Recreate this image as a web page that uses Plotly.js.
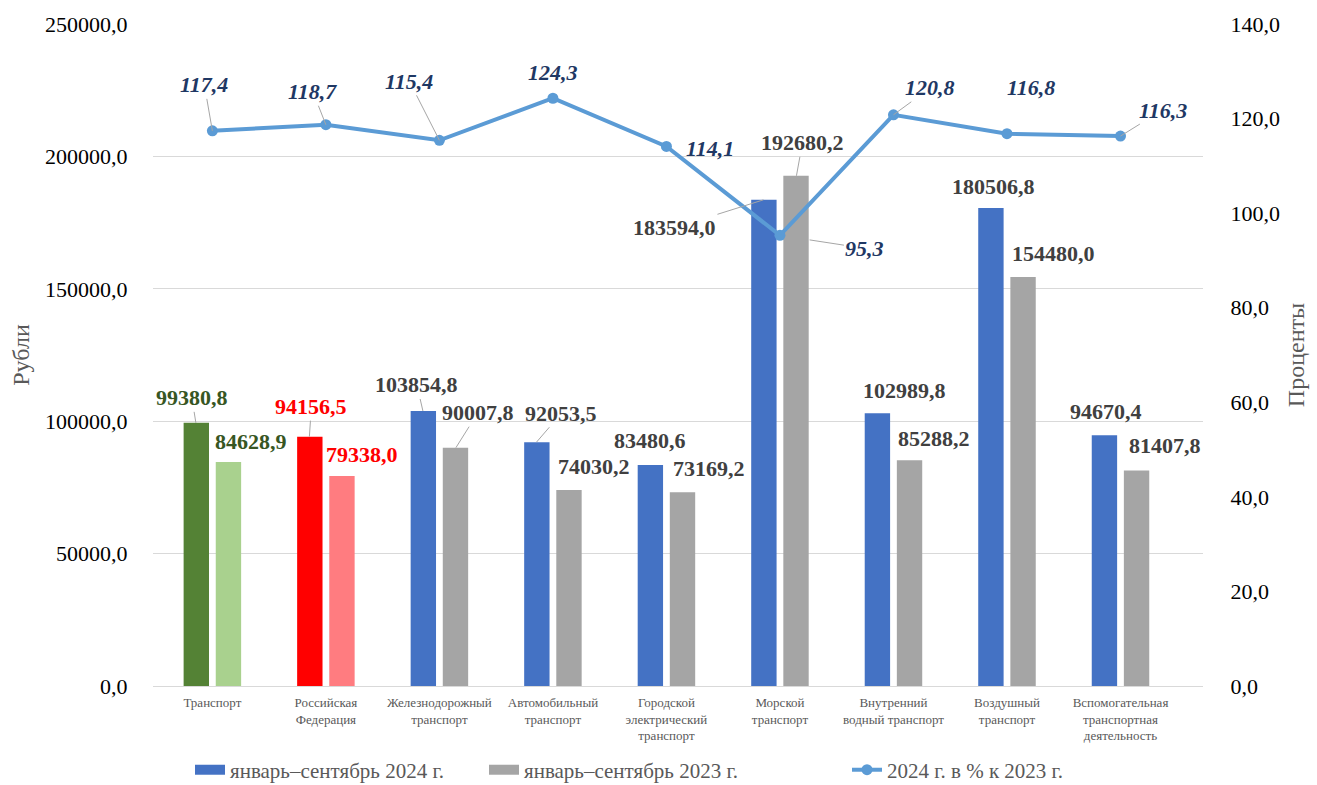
<!DOCTYPE html>
<html>
<head>
<meta charset="utf-8">
<script src="https://cdn.plot.ly/plotly-3.0.1.min.js"></script>
<style>html,body{margin:0;padding:0;background:#fff;}#chart{width:1317px;height:785px;}</style>
</head>
<body>
<div id="chart"></div>
<script>
// ---- data ----
const categories = [
  "Транспорт",
  "Российская<br>Федерация",
  "Железнодорожный<br>транспорт",
  "Автомобильный<br>транспорт",
  "Городской<br>электрический<br>транспорт",
  "Морской<br>транспорт",
  "Внутренний<br>водный транспорт",
  "Воздушный<br>транспорт",
  "Вспомогательная<br>транспортная<br>деятельность"
];
const values2024 = [99380.8, 94156.5, 103854.8, 92053.5, 83480.6, 183594.0, 102989.8, 180506.8, 94670.4];
const values2023 = [84628.9, 79338.0, 90007.8, 74030.2, 73169.2, 192680.2, 85288.2, 154480.0, 81407.8];
const percent = [117.4, 118.7, 115.4, 124.3, 114.1, 95.3, 120.8, 116.8, 116.3];
const seriesNames = ["январь–сентябрь 2024 г.", "январь–сентябрь 2023 г.", "2024 г. в % к 2023 г."];
const leftTicks = [0, 50000, 100000, 150000, 200000, 250000];
const rightTicks = [0, 20, 40, 60, 80, 100, 120, 140];

// ---- styles ----
const colors2024 = ["#548235", "#FF0000", "#4472C4", "#4472C4", "#4472C4", "#4472C4", "#4472C4", "#4472C4", "#4472C4"];
const colors2023 = ["#A9D18E", "#FF7C80", "#A5A5A5", "#A5A5A5", "#A5A5A5", "#A5A5A5", "#A5A5A5", "#A5A5A5", "#A5A5A5"];
const labelColors = ["#375623", "#FF0000", "#404040", "#404040", "#404040", "#404040", "#404040", "#404040", "#404040"];
const serif = 'Liberation Serif, Times New Roman, serif';

// label offsets (pixels) and whether a leader line is drawn
const off2024 = [[-4,-25,1],[2,-30,1],[-6,-26,1],[25,-29,1],[0,-24,0],[-89,28,1],[28,-23,0],[3,-22,0],[2,-24,0]];
const off2023 = [[22,-20,0],[20,-21,0],[22,-35,1],[25,-23,0],[26,-24,0],[6,-33,1],[24,-22,0],[30,-23,0],[28,-25,0]];
const offPct  = [[-8,-46,1],[-13,-33,1],[-30,-59,1],[0,-26,0],[44,2,0],[85,13,1],[37,-27,1],[24,-46,0],[42,-26,1]];

const fmt = v => v.toFixed(1).replace('.', ',');

const traces = [
  {type:'bar', x:categories, y:values2024, name:seriesNames[0], showlegend:false, offsetgroup:'a',
   marker:{color:colors2024}, hoverinfo:'skip'},
  {type:'bar', x:categories, y:values2023, name:seriesNames[1], showlegend:false, offsetgroup:'b',
   marker:{color:colors2023}, hoverinfo:'skip'},
  {type:'scatter', mode:'lines+markers', x:categories, y:percent, yaxis:'y2', name:seriesNames[2], legend:'legend3',
   line:{color:"#5B9BD5", width:4}, marker:{color:"#5B9BD5", size:11}, hoverinfo:'skip'},
  // legend keys for the bar series
  {type:'scatter', mode:'lines', x:[categories[0]], y:[null], yaxis:'y2', name:seriesNames[0], legend:'legend',
   line:{color:"#4472C4", width:10}, hoverinfo:'skip'},
  {type:'scatter', mode:'lines', x:[categories[0]], y:[null], yaxis:'y2', name:seriesNames[1], legend:'legend2',
   line:{color:"#A5A5A5", width:10}, hoverinfo:'skip'}
];

const annotations = [];
function addLabel(x, y, yref, xshift, off, text, color, italic) {
  annotations.push({
    x:x, y:y, xref:'x', yref:yref, xshift:xshift, text: italic ? '<b><i>'+text+'</i></b>' : '<b>'+text+'</b>',
    showarrow:true, ax:off[0], ay:off[1], axref:'pixel', ayref:'pixel',
    arrowhead:0, arrowwidth:1, standoff: (italic && off[0] > 60) ? 30 : 0,
    arrowcolor: off[2] ? '#A6A6A6' : 'rgba(0,0,0,0)',
    font:{family:serif, size:22, color:color}
  });
}
categories.forEach((c, i) => {
  addLabel(c, values2024[i], 'y', -16.5, off2024[i], fmt(values2024[i]), labelColors[i], false);
  addLabel(c, values2023[i], 'y', 16.5, off2023[i], fmt(values2023[i]), labelColors[i], false);
  addLabel(c, percent[i], 'y2', 0, offPct[i], fmt(percent[i]), '#1F3864', true);
});

const legendBase = {orientation:'h', xref:'container', yref:'container', xanchor:'left', y:0.019, yanchor:'middle',
  font:{family:serif, size:21, color:'#595959'}, bgcolor:'rgba(0,0,0,0)'};

const layout = {
  width:1317, height:785,
  margin:{l:153, r:114, t:24, b:99},
  paper_bgcolor:'#fff', plot_bgcolor:'#fff',
  separators:', ',
  barmode:'group', bargap:0.434, bargroupgap:0.21,
  font:{family:serif, color:'#000'},
  xaxis:{
    type:'category', showgrid:false, showline:false, zeroline:false, automargin:false,
    tickfont:{family:serif, size:13, color:'#595959'}, ticks:'outside', ticklen:4, tickcolor:'rgba(0,0,0,0)'
  },
  yaxis:{
    range:[0,250000], tickvals:leftTicks, ticktext:leftTicks.map(fmt), automargin:false,
    showgrid:true, gridcolor:'#D9D9D9', gridwidth:1, zeroline:true, zerolinecolor:'#D9D9D9', zerolinewidth:1,
    showline:false, ticks:'outside', ticklen:20, tickcolor:'rgba(0,0,0,0)',
    tickfont:{family:serif, size:22, color:'#000'},
    title:{text:'Рубли', font:{family:serif, size:24, color:'#595959'}, standoff:8}
  },
  yaxis2:{
    overlaying:'y', side:'right', range:[0,140], tickvals:rightTicks, ticktext:rightTicks.map(fmt), automargin:false,
    showgrid:false, zeroline:false, showline:false, ticks:'outside', ticklen:22, tickcolor:'rgba(0,0,0,0)',
    tickfont:{family:serif, size:22, color:'#000'},
    title:{text:'Проценты', font:{family:serif, size:24, color:'#595959'}, standoff:8}
  },
  legend: Object.assign({}, legendBase, {x:190/1317}),
  legend2: Object.assign({}, legendBase, {x:484/1317}),
  legend3: Object.assign({}, legendBase, {x:847/1317}),
  annotations:annotations
};

Plotly.newPlot('chart', traces, layout, {displayModeBar:false, staticPlot:true});
</script>
</body>
</html>
